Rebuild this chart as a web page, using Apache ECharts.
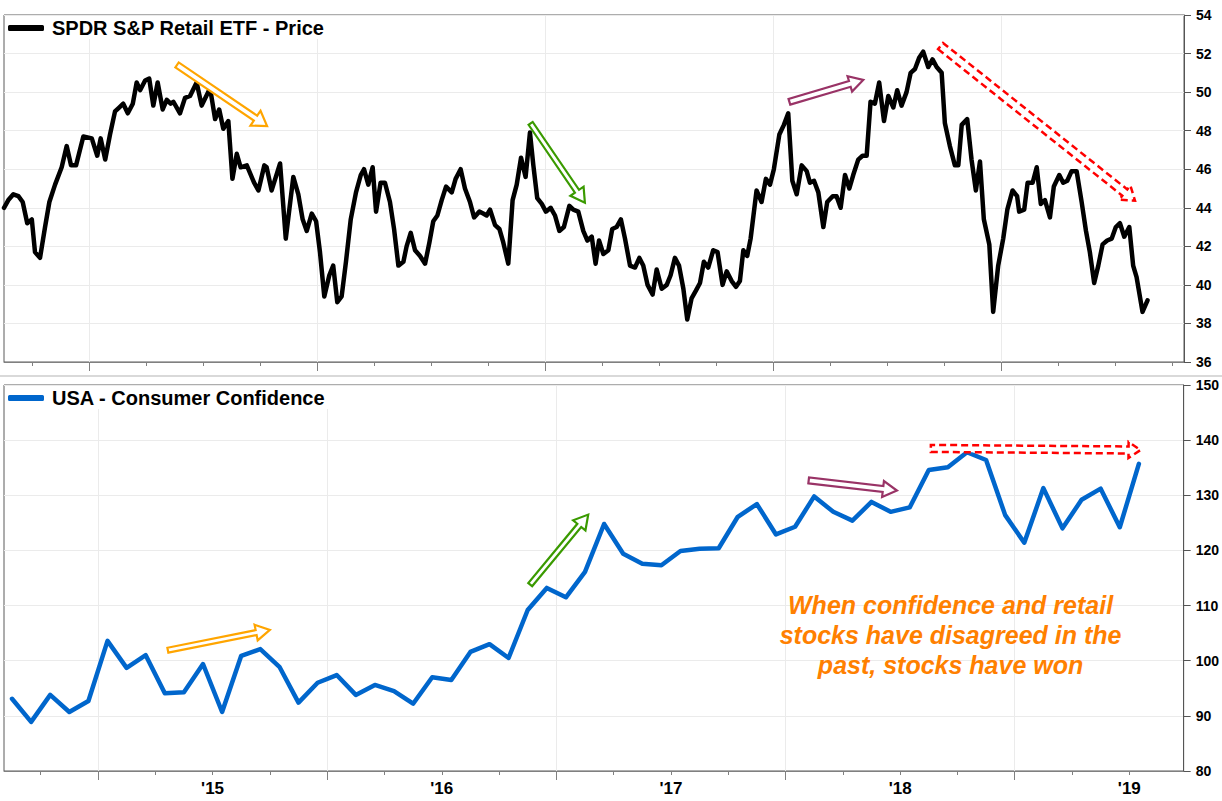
<!DOCTYPE html>
<html><head><meta charset="utf-8">
<script src="https://cdn.jsdelivr.net/npm/echarts@6/dist/echarts.min.js"></script>
<style>html,body{margin:0;padding:0;background:#fff}#c{width:1222px;height:801px}</style>
</head><body><div id="c"></div>
<script>
// ---------- DATA ----------
const priceName = 'SPDR S&P Retail ETF - Price';
const confName = 'USA - Consumer Confidence';
// weekly closes, time in decimal years
const priceTimes = [2014.627,2014.646,2014.668,2014.690,2014.709,2014.729,2014.749,2014.763,2014.785,2014.807,2014.826,2014.851,2014.880,2014.902,2014.921,2014.943,2014.975,2015.012,2015.036,2015.051,2015.071,2015.092,2015.114,2015.132,2015.150,2015.170,2015.192,2015.209,2015.224,2015.246,2015.264,2015.282,2015.301,2015.323,2015.341,2015.358,2015.370,2015.399,2015.421,2015.443,2015.472,2015.494,2015.531,2015.553,2015.571,2015.589,2015.611,2015.629,2015.648,2015.665,2015.692,2015.724,2015.743,2015.769,2015.779,2015.801,2015.838,2015.863,2015.896,2015.918,2015.937,2015.955,2015.977,2015.996,2016.013,2016.032,2016.054,2016.071,2016.089,2016.108,2016.127,2016.148,2016.171,2016.192,2016.206,2016.225,2016.244,2016.259,2016.279,2016.298,2016.320,2016.338,2016.357,2016.379,2016.393,2016.411,2016.430,2016.452,2016.474,2016.493,2016.510,2016.528,2016.547,2016.566,2016.591,2016.608,2016.630,2016.649,2016.671,2016.689,2016.712,2016.729,2016.744,2016.759,2016.781,2016.800,2016.817,2016.839,2016.858,2016.876,2016.895,2016.915,2016.934,2016.949,2016.966,2016.986,2017.004,2017.025,2017.044,2017.063,2017.083,2017.107,2017.124,2017.146,2017.168,2017.186,2017.205,2017.222,2017.237,2017.256,2017.278,2017.295,2017.314,2017.333,2017.351,2017.373,2017.395,2017.414,2017.431,2017.450,2017.472,2017.490,2017.512,2017.534,2017.551,2017.570,2017.588,2017.607,2017.624,2017.643,2017.662,2017.680,2017.697,2017.716,2017.738,2017.757,2017.779,2017.797,2017.819,2017.838,2017.855,2017.870,2017.887,2017.902,2017.928,2017.950,2017.969,2017.987,2018.004,2018.028,2018.048,2018.067,2018.085,2018.104,2018.126,2018.148,2018.162,2018.180,2018.199,2018.221,2018.238,2018.262,2018.279,2018.297,2018.316,2018.335,2018.352,2018.374,2018.393,2018.411,2018.428,2018.447,2018.466,2018.487,2018.506,2018.528,2018.545,2018.564,2018.586,2018.604,2018.623,2018.642,2018.659,2018.681,2018.700,2018.718,2018.740,2018.754,2018.776,2018.798,2018.813,2018.828,2018.852,2018.871,2018.890,2018.908,2018.925,2018.949,2018.966,2018.988,2019.010,2019.028,2019.051,2019.071,2019.080,2019.102,2019.117,2019.139,2019.157,2019.175,2019.193,2019.215,2019.232,2019.256,2019.273,2019.291,2019.310,2019.332,2019.354,2019.373,2019.390,2019.409,2019.427,2019.446,2019.466,2019.486,2019.504,2019.522,2019.541,2019.563,2019.580,2019.595,2019.621,2019.643];
const priceValues = [44.0,44.4,44.7,44.6,44.3,43.2,43.4,41.7,41.4,43.0,44.3,45.2,46.1,47.2,46.2,46.2,47.7,47.6,46.7,47.6,46.5,47.8,49.0,49.2,49.4,48.9,49.4,50.5,50.1,50.6,50.7,49.3,50.5,49.1,49.6,49.4,49.5,48.9,49.7,49.8,50.5,49.3,50.2,48.6,49.1,48.1,48.5,45.5,46.8,46.1,46.2,45.3,44.9,46.2,46.1,44.9,46.3,42.4,45.6,44.7,43.4,42.8,43.7,43.3,41.7,39.4,40.5,41.0,39.1,39.4,41.2,43.4,44.8,45.7,46.0,45.2,46.1,43.8,45.3,45.3,44.3,42.9,41.0,41.2,42.0,42.7,41.8,41.5,41.1,42.2,43.3,43.6,44.4,45.1,44.8,45.5,46.0,45.0,44.3,43.5,43.8,43.7,43.6,43.9,43.1,42.9,42.2,41.1,44.4,45.2,46.6,45.6,47.9,46.2,44.5,44.2,43.8,44.0,43.6,42.8,43.0,44.1,43.9,43.8,42.8,42.3,42.5,41.1,42.3,41.6,41.8,42.9,43.0,43.4,42.4,41.0,40.9,41.4,41.0,40.0,39.5,40.8,39.8,40.0,40.5,41.4,41.0,39.8,38.2,39.3,39.7,40.1,41.2,40.9,41.8,41.7,40.0,40.7,40.2,39.9,40.2,41.8,41.5,42.4,44.9,44.3,45.5,45.2,46.0,47.8,48.3,48.9,45.4,44.7,46.2,45.9,45.3,45.4,44.8,43.0,44.3,44.6,44.6,44.0,45.7,45.0,45.7,46.5,46.7,46.7,49.5,49.4,50.5,48.5,49.8,49.2,50.1,49.3,50.0,51.0,51.2,51.8,52.1,51.3,51.7,51.3,51.0,48.4,47.2,46.2,46.2,48.3,48.6,46.5,44.9,46.4,43.4,42.1,38.6,41.0,42.4,43.9,44.9,44.6,43.8,43.9,45.3,45.3,46.1,44.2,44.4,43.5,45.1,45.7,45.3,45.4,45.9,45.9,44.3,42.8,41.7,40.1,41.0,42.1,42.3,42.4,43.0,43.2,42.5,43.0,41.0,40.4,38.6,39.2];
// monthly readings, Aug 2014 .. Jul 2019
const confStartYear = 2014, confStartMonth = 8;
const confValues = [93.1,88.9,93.8,90.7,92.7,
  103.6,98.7,101.0,94.1,94.3,99.4,90.7,100.9,102.1,98.9,92.4,96.0,
  97.4,93.8,95.6,94.5,92.2,97.0,96.5,101.6,103.0,100.5,109.2,113.2,
  111.5,116.1,124.8,119.4,117.6,117.3,119.9,120.3,120.4,126.1,128.4,122.9,
  124.3,129.8,127.0,125.4,128.8,127.0,127.8,134.6,135.1,137.8,136.4,126.4,
  121.4,131.3,124.0,129.2,131.2,124.2,135.7];
const yearLabels = ["'15","'16","'17","'18","'19"];
const annotationLines = ['When confidence and retail','stocks have disagreed in the','past, stocks have won'];
// annotation arrows in data coordinates [time, value]
const topArrows = [
  {color:'#FFA500', from:[2015.386,51.41], to:[2015.781,48.24], w:3, hw:9, hl:14},
  {color:'#3A9A00', from:[2016.937,48.38], to:[2017.175,44.26], w:2.5, hw:8, hl:14},
  {color:'#993366', from:[2018.072,49.50], to:[2018.396,50.63], w:3, hw:8, hl:14},
  {color:'#FF0000', from:[2018.735,52.39], to:[2019.588,44.37], w:4, hw:9, hl:13, dash:true}
];
const bottomArrows = [
  {color:'#FFA500', from:[2015.305,101.9], to:[2015.750,105.6], w:2.5, hw:8, hl:14},
  {color:'#3A9A00', from:[2016.886,113.8], to:[2017.139,126.5], w:2.5, hw:8, hl:14},
  {color:'#993366', from:[2018.101,132.7], to:[2018.486,130.85], w:3, hw:8, hl:14},
  {color:'#FF0000', from:[2018.634,138.5], to:[2019.549,138.2], w:3.5, hw:8, hl:12, dash:true}
];

// ---------- CHART ----------
const FONT = "'Liberation Sans', Arial, Helvetica, sans-serif";
const chart = echarts.init(document.getElementById('c'), null, {renderer:'svg'});

const priceData = priceTimes.map((t,i)=>[t, priceValues[i]]);
const confData = confValues.map((v,i)=>{
  const m = confStartMonth - 1 + i;
  const y = confStartYear + Math.floor(m/12);
  return [y + ((m%12)+0.5)/12, v];
});
const quarterTicks = [];
for (let q = 2014.5; q <= 2020; q += 0.25) quarterTicks.push(q);
const yearTicks = [2014,2015,2016,2017,2018,2019,2020];
const labelPos = yearLabels.map((s,i)=>2015.5+i);

function minorX(gi, min, max, withLabels){
  return {type:'value', gridIndex:gi, min, max, position:'bottom',
    axisLine:{show:true, onZero:false, lineStyle:{color:'#808080', width:1}},
    axisTick:{show:true, length:4, customValues:quarterTicks.filter(v=>v>min&&v<max), lineStyle:{color:'#808080'}},
    axisLabel: withLabels ? {show:true, customValues:labelPos, margin:9, color:'#000', fontWeight:'bold', fontSize:17, fontFamily:FONT,
      formatter:(v)=>yearLabels[Math.round(v-2015.5)]} : {show:false},
    splitLine:{show:false}};
}
function majorX(gi, min, max){
  return {type:'value', gridIndex:gi, min, max, position:'bottom',
    axisLine:{show:false, onZero:false},
    axisTick:{show:true, length:9, customValues:yearTicks.filter(v=>v>min&&v<max), lineStyle:{color:'#808080'}},
    axisLabel:{show:false},
    splitLine:{show:true, lineStyle:{color:'#ebebeb', width:1}}};
}
function yAx(gi, min, max, interval){
  return {type:'value', gridIndex:gi, position:'right', min, max, interval,
    axisLine:{show:true, lineStyle:{color:'#555', width:1}},
    axisTick:{show:true, length:7, lineStyle:{color:'#555'}},
    axisLabel:{color:'#000', fontWeight:'bold', fontSize:14, fontFamily:FONT, margin:12},
    splitLine:{show:true, lineStyle:{color:'#ebebeb', width:1}}};
}
function legendAt(name, top){
  return {data:[name], left:5, top, orient:'horizontal', backgroundColor:'#fff', padding:[2,8,1,3],
    itemWidth:36, itemHeight:6, icon:'roundRect', selectedMode:false,
    textStyle:{fontFamily:FONT, fontWeight:'bold', fontSize:20, color:'#000', padding:[0,0,0,3]}};
}

chart.setOption({
  animation:false,
  backgroundColor:'#fff',
  grid:[
    {left:4, top:15, width:1180, height:347, show:true, borderColor:'#5a5a5a', borderWidth:1},
    {left:4, top:385, width:1180, height:386, show:true, borderColor:'#5a5a5a', borderWidth:1}
  ],
  xAxis:[ minorX(0, 2014.627, 2019.803, false), majorX(0, 2014.627, 2019.803),
          minorX(1, 2014.590, 2019.737, true),  majorX(1, 2014.590, 2019.737) ],
  yAxis:[ yAx(0, 36, 54, 2), yAx(1, 80, 150, 10) ],
  legend:[ legendAt(priceName, 16), legendAt(confName, 386) ],
  series:[
    {name:priceName, type:'line', xAxisIndex:0, yAxisIndex:0, data:priceData, showSymbol:false, symbol:'none',
     color:'#000', lineStyle:{color:'#000', width:4.5, join:'round', cap:'round'}, z:5},
    {name:confName, type:'line', xAxisIndex:2, yAxisIndex:1, data:confData, showSymbol:false, symbol:'none',
     color:'#0066CC', lineStyle:{color:'#0066CC', width:4.5, join:'round', cap:'round'}, z:5}
  ]
});

function arrowPoints(p0, p1, w, hw, hl){
  const dx=p1[0]-p0[0], dy=p1[1]-p0[1], len=Math.hypot(dx,dy);
  const ux=dx/len, uy=dy/len, nx=-uy, ny=ux;
  const k=[p1[0]-ux*hl, p1[1]-uy*hl];
  return [[p0[0]+nx*w,p0[1]+ny*w],[k[0]+nx*w,k[1]+ny*w],[k[0]+nx*hw,k[1]+ny*hw],p1,
          [k[0]-nx*hw,k[1]-ny*hw],[k[0]-nx*w,k[1]-ny*w],[p0[0]-nx*w,p0[1]-ny*w]];
}
const graphics = [
  {type:'line', shape:{x1:0,y1:376,x2:1222,y2:376}, style:{stroke:'#d9d9d9', lineWidth:2}, silent:true}
];
function addArrows(list, finder){
  list.forEach(a=>{
    const p0 = chart.convertToPixel(finder, a.from);
    const p1 = chart.convertToPixel(finder, a.to);
    graphics.push({type:'polygon', z:100, silent:true,
      shape:{points:arrowPoints(p0,p1,a.w,a.hw,a.hl)},
      style:{fill:'#fff', stroke:a.color, lineWidth:a.dash?2.5:2.2, lineDash:a.dash?[7,4]:null, lineJoin:'miter'}});
  });
}
addArrows(topArrows, {xAxisIndex:0, yAxisIndex:0});
addArrows(bottomArrows, {xAxisIndex:2, yAxisIndex:1});
const annPos = chart.convertToPixel({xAxisIndex:2, yAxisIndex:1}, [2018.72, 104.6]);
graphics.push({type:'text', z:100, x:annPos[0], y:annPos[1],
  style:{text:annotationLines.join('\n'), fill:'#FF8000', font:"italic bold 25px "+FONT,
         align:'center', verticalAlign:'middle', lineHeight:30}});
chart.setOption({graphic:graphics});
</script>
</body></html>
